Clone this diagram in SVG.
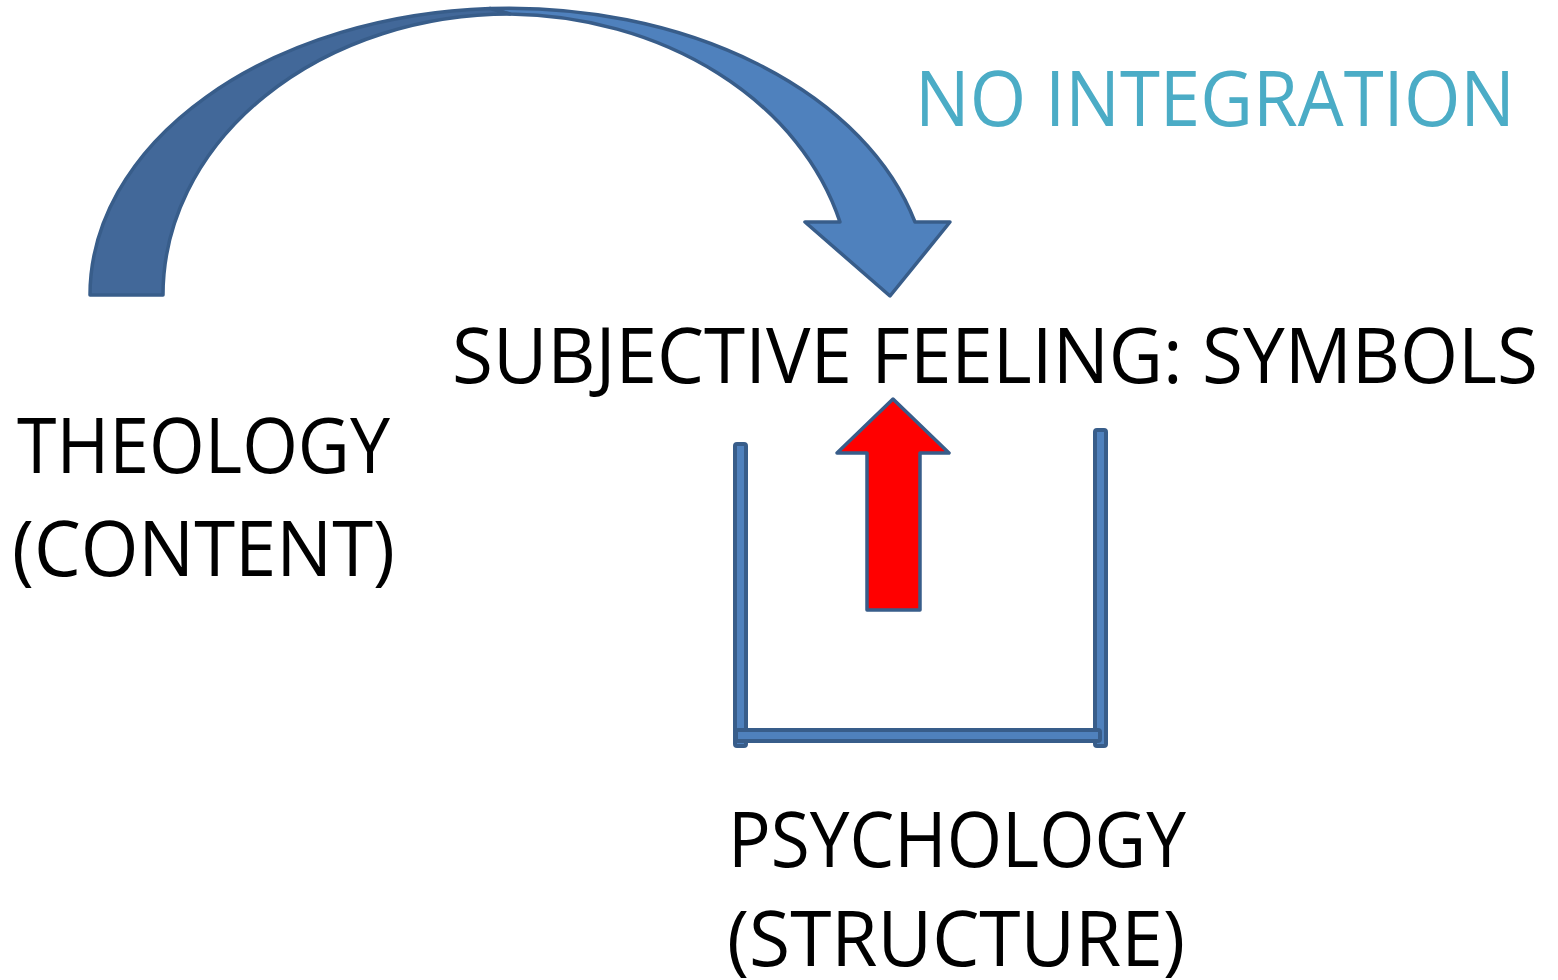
<svg xmlns="http://www.w3.org/2000/svg" width="1558" height="980" viewBox="0 0 1558 980">
<style>
.t{font-family:"Open Sans","Noto Sans","Liberation Sans",sans-serif;font-size:76px;fill:#000}
.cyan{fill:#4BACC6}
.bar{fill:#4F81BD;stroke:#385D8A;stroke-width:4}
.sh{stroke:#385D8A;stroke-width:3.5;stroke-linejoin:round}
</style>
<rect width="1558" height="980" fill="#fff"/>
<g id="connectors">
<g id="curved-arrow">
<path class="sh" fill="#4F81BD" d="M490 8.5 A420 287 0 0 1 915 222 L950 222 L890 296 L805 222 L840 222 A347 281 0 0 0 510 14 Z"/>
<path class="sh" fill="#426899" d="M90 295 A420 287 0 0 1 490 8.5 L510 14 A347 281 0 0 0 163 295 Z"/>
</g>
<path id="red-arrow" class="sh" fill="#FF0000" stroke-width="4" d="M893 399 L949 453 L920 453 L920 610 L867 610 L867 453 L837 453 Z"/>
</g>
<g id="container">
<rect class="bar" x="735" y="444" width="11" height="302" rx="2"/>
<rect class="bar" x="1095" y="430" width="11" height="316" rx="2"/>
<rect class="bar" x="736" y="730" width="364" height="11" rx="2"/>
</g>
<g id="no-integration"><text class="t cyan" x="915" y="126" textLength="600" lengthAdjust="spacingAndGlyphs">NO INTEGRATION</text></g>
<g id="subjective"><text class="t" x="452" y="383" textLength="1086" lengthAdjust="spacingAndGlyphs">SUBJECTIVE FEELING: SYMBOLS</text></g>
<g id="theology">
<text class="t" x="17" y="473" textLength="373" lengthAdjust="spacingAndGlyphs">THEOLOGY</text>
<text class="t" x="12" y="576" textLength="383" lengthAdjust="spacingAndGlyphs">(CONTENT)</text>
</g>
<g id="psychology">
<text class="t" x="728" y="867" textLength="458" lengthAdjust="spacingAndGlyphs">PSYCHOLOGY</text>
<text class="t" x="727" y="966" textLength="458" lengthAdjust="spacingAndGlyphs">(STRUCTURE)</text>
</g>
</svg>
